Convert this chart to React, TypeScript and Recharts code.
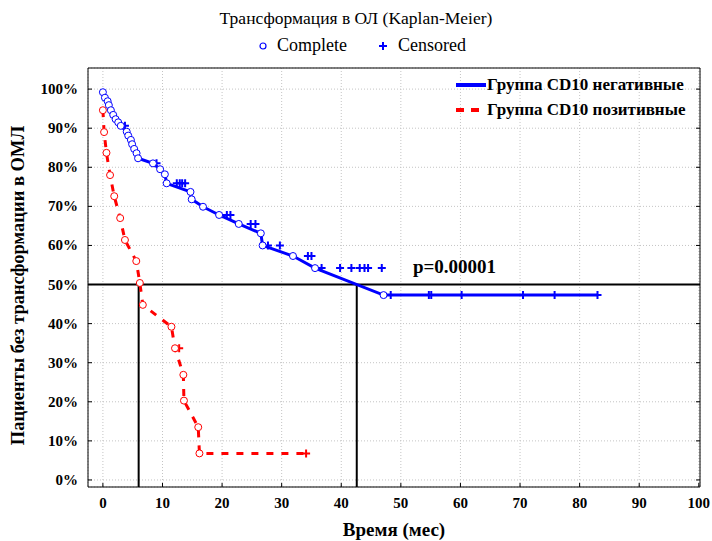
import React from "react";
import {
  ComposedChart, Line, Scatter, XAxis, YAxis, CartesianGrid,
  ReferenceLine, ReferenceDot, Legend,
} from "recharts";

const SERIF = '"Liberation Serif", "Times New Roman", serif';
const BLUE = "#0000ff";
const RED = "#ff0000";
const NEG_NAME = "Группа CD10 негативные";
const POS_NAME = "Группа CD10 позитивные";

// CD10 negative group: complete events (months, % without transformation)
const negEventTime = [0, 0.34, 0.8, 1.0, 1.34, 1.73, 2.13, 2.57, 3.0, 4.0, 4.25, 4.7, 4.9, 5.25, 5.65, 5.9, 8.4, 9.6, 10.4, 10.7, 14.7, 14.9, 16.8, 19.5, 22.8, 26.5, 26.8, 31.9, 35.6, 47.1];
const negEventSurv = [99.2, 97.8, 96.9, 95.9, 94.6, 93.4, 92.3, 91.5, 90.6, 89.1, 88.1, 87.0, 85.9, 84.7, 83.6, 82.3, 81.0, 79.5, 78.2, 75.9, 73.7, 71.8, 69.9, 67.8, 65.5, 63.1, 60.0, 57.3, 54.2, 47.3];
// CD10 negative group: censored
const negCensTime = [3.7, 9.0, 12.4, 12.9, 13.3, 13.8, 20.8, 21.4, 24.8, 25.6, 27.7, 29.7, 34.4, 35.0, 36.7, 39.8, 41.7, 43.1, 43.9, 44.5, 46.8, 48.3, 54.7, 55.1, 60.2, 70.5, 75.8, 83.0];
const negCensSurv = [90.6, 81.0, 75.9, 75.9, 75.9, 75.9, 67.8, 67.8, 65.5, 65.5, 60.0, 60.0, 57.3, 57.3, 54.2, 54.2, 54.2, 54.2, 54.2, 54.2, 54.2, 47.3, 47.3, 47.3, 47.3, 47.3, 47.3, 47.3];

// CD10 positive group
const posEventTime = [0, 0.2, 0.6, 1.2, 1.9, 2.9, 3.7, 5.6, 6.2, 6.7, 11.5, 12.1, 13.5, 13.6, 16.0, 16.2];
const posEventSurv = [94.6, 89.0, 83.7, 78.0, 72.6, 67.0, 61.4, 56.0, 50.4, 44.8, 39.2, 33.7, 26.9, 20.3, 13.5, 6.8];
const posCensTime = [12.8, 34.1];
const posCensSurv = [33.7, 6.8];

const medianTimes = [6.0, 42.6];
const xTicks = [0, 10, 20, 30, 40, 50, 60, 70, 80, 90, 100];
const yTicks = [0, 10, 20, 30, 40, 50, 60, 70, 80, 90, 100];
const X_DOMAIN: [number, number] = [-2.5, 100.2];
const Y_DOMAIN: [number, number] = [-1.8, 105.4];

const lineData = (tt: number[], ss: number[], ct: number[], cs: number[]) => {
  const pts = tt.map((t, i) => ({ t, s: ss[i], event: true }));
  const lastT = ct[ct.length - 1];
  if (lastT > tt[tt.length - 1]) pts.push({ t: lastT, s: cs[cs.length - 1], event: false });
  return pts;
};
const negLine = lineData(negEventTime, negEventSurv, negCensTime, negCensSurv);
const posLine = lineData(posEventTime, posEventSurv, posCensTime, posCensSurv);
const negCens = negCensTime.map((t, i) => ({ t, s: negCensSurv[i] }));
const posCens = posCensTime.map((t, i) => ({ t, s: posCensSurv[i] }));

const circleDot = (color: string) => (p: any) => {
  if (!p.payload || !p.payload.event) return <g key={p.index} />;
  return <circle key={p.index} cx={p.cx} cy={p.cy} r={3.5} fill="#fff" stroke={color} strokeWidth={1} />;
};
const cross = (color: string) => (p: any) => (
  <path d={`M${p.cx - 4},${p.cy}H${p.cx + 4}M${p.cx},${p.cy - 4}V${p.cy + 4}`} stroke={color} strokeWidth={2} fill="none" />
);

const tickFont = { fontFamily: SERIF, fontWeight: 700, fontSize: 15, fill: "#000" };

const BottomTick = ({ x, y, payload }: any) => (
  <g>
    <line x1={x} x2={x} y1={y - 10} y2={y - 14} stroke="#000" />
    <text x={x} y={y + 11} textAnchor="middle" style={tickFont}>{payload.value}</text>
  </g>
);
const LeftTick = ({ x, y, payload }: any) => (
  <g>
    <line x1={x + 8} x2={x + 12} y1={y} y2={y} stroke="#000" />
    <text x={x - 2} y={y + 5} textAnchor="end" style={tickFont}>{payload.value}%</text>
  </g>
);
const TopTick = ({ x, y }: any) => <line x1={x} x2={x} y1={y} y2={y + 4} stroke="#000" />;
const RightTick = ({ x, y }: any) => <line x1={x - 4} x2={x} y1={y} y2={y} stroke="#000" />;

const GroupLegend = ({ payload }: any) => {
  const items = (payload || [])
    .filter((e: any) => e.value === NEG_NAME || e.value === POS_NAME)
    .sort((a: any, b: any) => (a.value === NEG_NAME ? 0 : 1) - (b.value === NEG_NAME ? 0 : 1));
  return (
    <div style={{ fontFamily: SERIF, fontWeight: 700, fontSize: 17, lineHeight: "25px" }}>
      {items.map((e: any) => (
        <div key={e.value} style={{ display: "flex", alignItems: "center" }}>
          <svg width={32} height={10} style={{ marginRight: 0 }}>
            <line x1={1} x2={31} y1={5} y2={5} stroke={e.color} strokeWidth={4}
              strokeDasharray={e.value === POS_NAME ? "8 7" : undefined} />
          </svg>
          <span>{e.value}</span>
        </div>
      ))}
    </div>
  );
};

export default function App() {
  return (
    <div style={{ position: "absolute", left: 0, top: 0, width: 712, height: 541, background: "#fff" }}>
      <div style={{ position: "absolute", top: 8, width: 712, textAlign: "center", fontFamily: SERIF, fontSize: 17.5 }}>
        Трансформация в ОЛ (Kaplan-Meier)
      </div>
      <div style={{ position: "absolute", top: 35, left: 6, width: 712, display: "flex", justifyContent: "center", alignItems: "center", fontFamily: SERIF, fontSize: 18 }}>
        <svg width={10} height={10} style={{ marginRight: 9 }}><circle cx={5} cy={5} r={3} fill="#fff" stroke={BLUE} strokeWidth={1.2} /></svg>
        <span>Complete</span>
        <svg width={12} height={12} style={{ marginLeft: 30, marginRight: 9 }}><path d="M2,6H10M6,2V10" stroke={BLUE} strokeWidth={2} /></svg>
        <span>Censored</span>
      </div>
      <ComposedChart width={712} height={541} margin={{ top: 67, right: 11, bottom: 0, left: 0 }}>
        <CartesianGrid stroke="#c4c4c4" strokeDasharray="1 2" />
        <XAxis dataKey="t" type="number" domain={X_DOMAIN} ticks={xTicks} allowDataOverflow
          height={54} tickSize={0} tickMargin={10} tick={<BottomTick />} axisLine={{ stroke: "#000" }}
          label={{ value: "Время (мес)", position: "insideBottom", offset: 5, style: { fontFamily: SERIF, fontWeight: 700, fontSize: 19, fill: "#000" } }} />
        <XAxis xAxisId="top" orientation="top" type="number" domain={X_DOMAIN} ticks={xTicks} allowDataOverflow
          height={1} tickSize={0} tickMargin={0} tick={<TopTick />} axisLine={{ stroke: "#000" }} />
        <YAxis type="number" domain={Y_DOMAIN} ticks={yTicks} allowDataOverflow width={88}
          tickSize={0} tickMargin={8} tick={<LeftTick />} axisLine={{ stroke: "#000" }}
          label={{
            content: (p: any) => {
              const vb = p.viewBox;
              const cx = vb.x + 18;
              const cy = vb.y + vb.height / 2 + 8;
              return (
                <text x={cx} y={cy} transform={`rotate(-90 ${cx} ${cy})`} textAnchor="middle" dominantBaseline="central"
                  style={{ fontFamily: SERIF, fontWeight: 700, fontSize: 18.5, fill: "#000" }}>
                  Пациенты без трансформации в ОМЛ
                </text>
              );
            },
          }} />
        <YAxis yAxisId="right" orientation="right" type="number" domain={Y_DOMAIN} ticks={yTicks} allowDataOverflow
          width={1} tickSize={0} tickMargin={0} tick={<RightTick />} axisLine={{ stroke: "#000" }} />

        <ReferenceLine y={50} stroke="#000" strokeWidth={2} />
        {medianTimes.map((m) => (
          <ReferenceLine key={m} segment={[{ x: m, y: Y_DOMAIN[0] }, { x: m, y: 50 }]} stroke="#000" strokeWidth={2} />
        ))}
        <ReferenceDot x={59} y={54.6} r={0}
          shape={(p: any) => (
            <text x={p.cx} y={p.cy} textAnchor="middle" dominantBaseline="central"
              style={{ fontFamily: SERIF, fontWeight: 700, fontSize: 19, fill: "#000" }}>p=0.00001</text>
          )} />

        <Line data={posLine} dataKey="s" name={POS_NAME} type="linear" stroke={RED} strokeWidth={3}
          strokeDasharray="7 8" dot={circleDot(RED)} activeDot={false} isAnimationActive={false} />
        <Line data={negLine} dataKey="s" name={NEG_NAME} type="linear" stroke={BLUE} strokeWidth={3}
          dot={circleDot(BLUE)} activeDot={false} isAnimationActive={false} />
        <Scatter data={posCens} dataKey="s" name="censored+" shape={cross(RED)} legendType="none" isAnimationActive={false} />
        <Scatter data={negCens} dataKey="s" name="censored-" shape={cross(BLUE)} legendType="none" isAnimationActive={false} />

        <Legend layout="horizontal" verticalAlign="middle" align="center"
          wrapperStyle={{ position: "absolute", left: 455, top: 72, width: 250, margin: 0 }}
          content={(props: any) => <GroupLegend payload={props.payload} />} />
      </ComposedChart>
    </div>
  );
}
